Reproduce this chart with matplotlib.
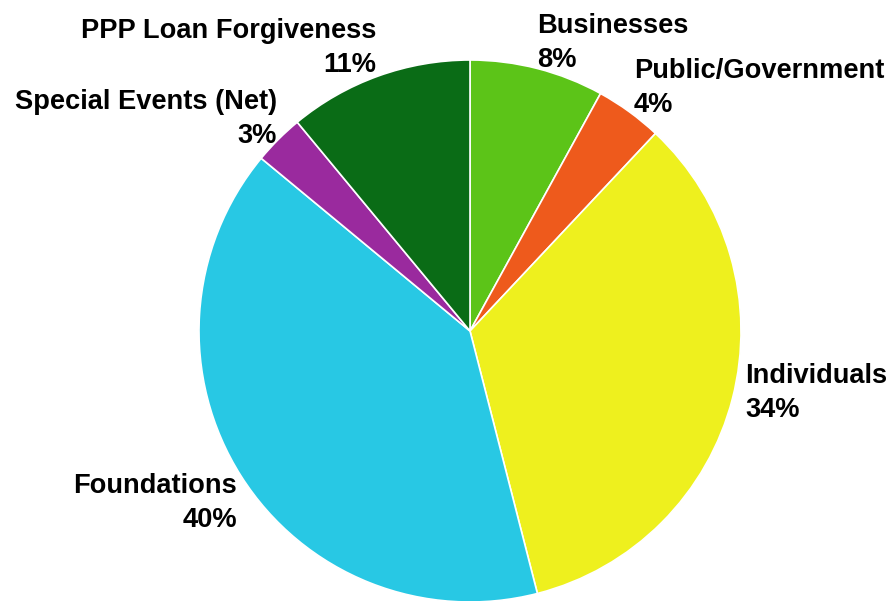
import matplotlib
matplotlib.use("Agg")
import matplotlib.pyplot as plt

categories = ["Businesses", "Public/Government", "Individuals", "Foundations",
              "Special Events (Net)", "PPP Loan Forgiveness"]
values = [8, 4, 34, 40, 3, 11]
pct_labels = ["8%", "4%", "34%", "40%", "3%", "11%"]
colors = ["#5CC418", "#EE5A1C", "#EEF01E", "#28C8E4", "#9A2A9E", "#0A6C16"]

W, H = 892, 601
fig = plt.figure(figsize=(W / 100, H / 100), dpi=100)
ax = fig.add_axes([0, 0, 1, 1])

cx, cy, r = 470, H - 331, 271
ax.pie(values, colors=colors, startangle=90, counterclock=False,
       center=(cx, cy), radius=r, frame=True,
       wedgeprops=dict(edgecolor="white", linewidth=1.2))
ax.set_xlim(0, W)
ax.set_ylim(0, H)
ax.set_aspect("equal")
ax.axis("off")

# label anchor positions (pixel coords from top-left), alignment
label_pos = {
    "Businesses": (537, 13, "left"),
    "Public/Government": (634, 58, "left"),
    "Individuals": (745, 363, "left"),
    "Foundations": (237, 473, "right"),
    "Special Events (Net)": (277, 89, "right"),
    "PPP Loan Forgiveness": (376, 18, "right"),
}
font = dict(family=["Liberation Sans", "DejaVu Sans"], fontweight="bold",
            fontsize=19.6, color="black")
for cat, pct in zip(categories, pct_labels):
    x, y, ha = label_pos[cat]
    ax.text(x, H - y, cat + "\n" + pct, ha=ha, va="top", multialignment=ha,
            linespacing=1.38, **font)

fig.savefig("out.png", dpi=100, facecolor="white")
